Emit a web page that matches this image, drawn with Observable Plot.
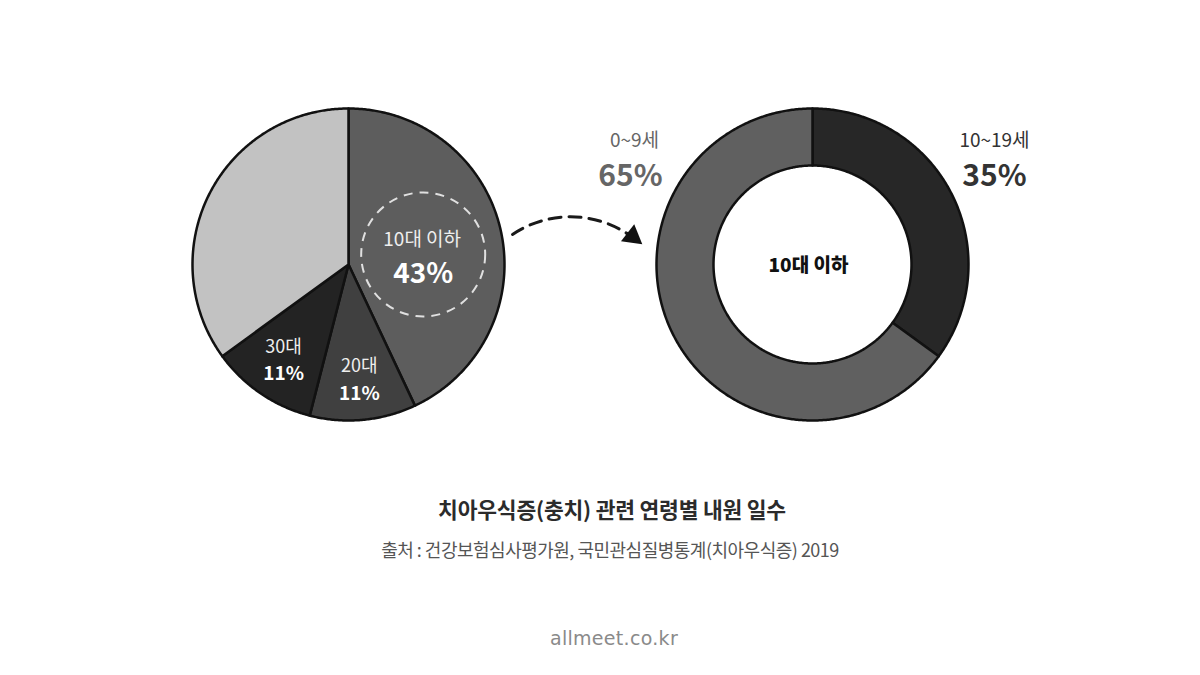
<!DOCTYPE html>
<html><head><meta charset="utf-8">
<script src="https://cdn.jsdelivr.net/npm/d3@7"></script>
<script src="https://cdn.jsdelivr.net/npm/@observablehq/plot@0.6"></script>
<style>
body{margin:0;background:#fff;width:1200px;height:675px;position:relative;overflow:hidden;font-family:"Noto Sans CJK KR",sans-serif}
#chart{position:absolute;left:0;top:0}
.t{position:absolute;left:12px;width:1200px;text-align:center;white-space:nowrap;line-height:1.4}
#title{top:494px;font-size:21.5px;font-weight:700;color:#2b2b2b;letter-spacing:-0.2px}
#source{top:537px;font-size:18px;color:#555;letter-spacing:-0.5px;left:10px}
#site{top:625px;left:14px;font-family:"DejaVu Sans",sans-serif;font-size:19px;color:#8a8a8a;letter-spacing:0.3px}
</style></head><body>
<div id="chart"></div>
<div class="t" id="title">치아우식증(충치) 관련 연령별 내원 일수</div>
<div class="t" id="source">출처 : 건강보험심사평가원, 국민관심질병통계(치아우식증) 2019</div>
<div class="t" id="site">allmeet.co.kr</div>
<script>
// Share of dental-caries visit days by age group (%)
const ageGroups = ["10대 이하", "20대", "30대", "기타"];
const ageShares = [43, 11, 11, 35];
const ageColors = ["#5d5d5d", "#404040", "#232323", "#c2c2c2"];
const ageLabelled = [true, true, true, false];

// Breakdown of the "10대 이하" group
const teenGroups = ["10~19세", "0~9세"];
const teenShares = [35, 65];
const teenColors = ["#272727", "#606060"];
const teenLabelColors = ["#333333", "#666666"];

const W = 1200, H = 470;
const pieC = [348, 264], donutC = [812, 264];
const R = 156, R0 = 99;

const FONT = "'Noto Sans CJK KR', sans-serif";
const arcsOf = values => d3.pie().sort(null)(values);

function arcPts(cx, cy, rad, a0, a1) {
  const n = Math.max(2, Math.ceil(Math.abs(a1 - a0) / (Math.PI / 360)));
  return d3.range(n + 1).map(i => {
    const a = a0 + (a1 - a0) * i / n;
    return [cx + rad * Math.sin(a), cy - rad * Math.cos(a)];
  });
}

// Pie slices as closed polygons
const pieArcs = arcsOf(ageShares);
const pieRows = [];
pieArcs.forEach((a, i) => {
  const pts = [pieC, ...arcPts(pieC[0], pieC[1], R, a.startAngle, a.endAngle), pieC];
  pts.forEach(([x, y]) => pieRows.push({key: ageGroups[i], x, y, fill: ageColors[i]}));
});

// Donut segments
const donutArcs = arcsOf(teenShares);
const donutRows = [];
donutArcs.forEach((a, i) => {
  const outer = arcPts(donutC[0], donutC[1], R, a.startAngle, a.endAngle);
  const inner = arcPts(donutC[0], donutC[1], R0, a.endAngle, a.startAngle);
  [...outer, ...inner, outer[0]].forEach(([x, y]) => donutRows.push({key: teenGroups[i], x, y, fill: teenColors[i]}));
});

// Pie labels at the slice mid-angle
const pieLabels = pieArcs.map((a, i) => {
  const mid = (a.startAngle + a.endAngle) / 2;
  const k = ageShares[i] > 30 ? 0.53 : 0.74;
  return {
    name: ageGroups[i], pct: ageShares[i] + "%", big: ageShares[i] > 30,
    x: pieC[0] + R * k * Math.sin(mid), y: pieC[1] - R * k * Math.cos(mid), show: ageLabelled[i]
  };
}).filter(d => d.show);
const bigLabel = pieLabels.filter(d => d.big);
const smallLabels = pieLabels.filter(d => !d.big);

// Donut labels outside, on the side of each segment
const donutLabels = donutArcs.map((a, i) => {
  const mid = (a.startAngle + a.endAngle) / 2;
  const side = Math.sin(mid) >= 0 ? 1 : -1;
  return {name: teenGroups[i], pct: teenShares[i] + "%", x: donutC[0] + side * 182, y: 158, color: teenLabelColors[i]};
});

const chart = Plot.plot({
  width: W, height: H, margin: 0,
  x: {domain: [0, W], range: [0, W], axis: null},
  y: {domain: [0, H], range: [0, H], axis: null},
  color: {type: "identity"},
  style: {background: "transparent", fontFamily: FONT},
  marks: [
    Plot.line(pieRows, {x: "x", y: "y", z: "key", fill: "fill", stroke: "#111", strokeWidth: 2.5, strokeLinejoin: "round"}),
    Plot.line(donutRows, {x: "x", y: "y", z: "key", fill: "fill", stroke: "#111", strokeWidth: 2.5, strokeLinejoin: "round"}),
    // dashed highlight ring round the largest slice's label
    Plot.dot(bigLabel, {x: d => d.x - 6, y: d => d.y + 8, r: 62, stroke: "#e0e0e0", strokeWidth: 2, strokeDasharray: "9,7", fill: "none"}),
    Plot.text(bigLabel, {x: d => d.x - 7, y: d => d.y - 7, text: "name", fill: "#eeeeee", fontSize: 19, fontFamily: FONT}),
    Plot.text(bigLabel, {x: d => d.x - 6, y: d => d.y + 28, text: "pct", fill: "#ffffff", fontSize: 28, fontWeight: "bold", fontFamily: FONT}),
    Plot.text(smallLabels, {x: "x", y: d => d.y - 13, text: "name", fill: "#eeeeee", fontSize: 18, fontFamily: FONT}),
    Plot.text(smallLabels, {x: "x", y: d => d.y + 14, text: "pct", fill: "#ffffff", fontSize: 19, fontWeight: "bold", fontFamily: FONT}),
    // connector from the pie to the donut
    Plot.arrow([{x1: 512, y1: 234, x2: 628, y2: 234}], {x1: "x1", y1: "y1", x2: "x2", y2: "y2", bend: 34, headLength: 0, stroke: "#1a1a1a", strokeWidth: 3, strokeDasharray: "12,8"}),
    Plot.dot([{x: 632, y: 236}], {x: "x", y: "y", symbol: "triangle", r: 8, rotate: 128, fill: "#111", stroke: "none"}),
    Plot.text(donutLabels, {x: d => d.x + (d.x < donutC[0] ? 4 : 0), y: d => d.y - 18, text: "name", fill: "color", fontSize: 19, fontFamily: FONT}),
    Plot.text(donutLabels, {x: "x", y: d => d.y + 18, text: "pct", fill: "color", fontSize: 30, fontWeight: "bold", fontFamily: FONT}),
    Plot.text([{label: "10대 이하"}], {x: () => donutC[0] - 4, y: () => donutC[1] + 1, text: "label", fill: "#111", fontSize: 19, fontWeight: "900", fontFamily: FONT})
  ]
});
document.getElementById("chart").appendChild(chart);
</script>
</body></html>
